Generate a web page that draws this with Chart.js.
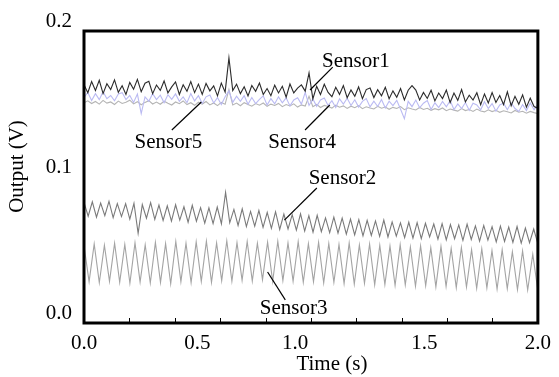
<!DOCTYPE html>
<html>
<head>
<meta charset="utf-8">
<title>Sensor output</title>
<script src="https://cdn.jsdelivr.net/npm/chart.js@4.4.1/dist/chart.umd.min.js"></script>
<style>
  body { margin: 0; background: #fff; }
  #wrap { width: 559px; height: 377px; }
</style>
</head>
<body>
<div id="wrap"><canvas id="sensorChart" width="559" height="377"></canvas></div>
<script>
// Werte (Output in V)
const seriesNames = ["Sensor1", "Sensor5", "Sensor4", "Sensor2", "Sensor3"];
const timeRange = [0, 2];
const xTickLabels = ["0.0", "0.5", "1.0", "1.5", "2.0"];
const yTickLabels = ["0.0", "0.1", "0.2"];
const xMinorTicks = [0.2, 0.4, 0.6, 0.8, 1.0, 1.2, 1.4, 1.6, 1.8];

const sensor1 = [
  0.1632, 0.1577, 0.1654, 0.1593, 0.1662, 0.1571, 0.1639, 0.1599, 0.1665, 0.1580,
  0.1625, 0.1565, 0.1648, 0.1601, 0.1669, 0.1584, 0.1642, 0.1656, 0.1570, 0.1630,
  0.1593, 0.1658, 0.1576, 0.1617, 0.1651, 0.1565, 0.1632, 0.1587, 0.1654, 0.1578,
  0.1636, 0.1566, 0.1641, 0.1590, 0.1624, 0.1556, 0.1643, 0.1581, 0.1816, 0.1592,
  0.1636, 0.1571, 0.1618, 0.1555, 0.1627, 0.1587, 0.1644, 0.1565, 0.1606, 0.1557,
  0.1629, 0.1576, 0.1621, 0.1547, 0.1637, 0.1576, 0.1609, 0.1631, 0.1588, 0.1713,
  0.1535, 0.1621, 0.1565, 0.1635, 0.1579, 0.1550, 0.1615, 0.1566, 0.1626, 0.1543,
  0.1596, 0.1553, 0.1617, 0.1537, 0.1599, 0.1610, 0.1544, 0.1598, 0.1556, 0.1615,
  0.1536, 0.1590, 0.1546, 0.1606, 0.1528, 0.1594, 0.1626, 0.1595, 0.1528, 0.1579,
  0.1538, 0.1594, 0.1521, 0.1575, 0.1537, 0.1595, 0.1510, 0.1575, 0.1525, 0.1599,
  0.1514, 0.1560, 0.1527, 0.1577, 0.1495, 0.1569, 0.1507, 0.1579, 0.1511, 0.1558,
  0.1496, 0.1584, 0.1488, 0.1553, 0.1498, 0.1563, 0.1478, 0.1540, 0.1483, 0.1470
];

const sensor5 = [
  0.1545, 0.1579, 0.1524, 0.1571, 0.1530, 0.1584, 0.1536, 0.1558, 0.1522, 0.1569,
  0.1578, 0.1530, 0.1559, 0.1511, 0.1568, 0.1434, 0.1549, 0.1519, 0.1571, 0.1530,
  0.1560, 0.1509, 0.1564, 0.1532, 0.1569, 0.1518, 0.1548, 0.1509, 0.1571, 0.1521,
  0.1557, 0.1504, 0.1549, 0.1561, 0.1507, 0.1544, 0.1496, 0.1550, 0.1590, 0.1511,
  0.1553, 0.1518, 0.1557, 0.1498, 0.1544, 0.1503, 0.1532, 0.1556, 0.1493, 0.1537,
  0.1502, 0.1549, 0.1508, 0.1542, 0.1487, 0.1528, 0.1543, 0.1499, 0.1580, 0.1490,
  0.1535, 0.1484, 0.1528, 0.1541, 0.1490, 0.1523, 0.1476, 0.1535, 0.1499, 0.1539,
  0.1490, 0.1529, 0.1479, 0.1518, 0.1537, 0.1480, 0.1519, 0.1483, 0.1531, 0.1472,
  0.1519, 0.1489, 0.1525, 0.1464, 0.1399, 0.1518, 0.1482, 0.1527, 0.1474, 0.1505,
  0.1523, 0.1462, 0.1508, 0.1475, 0.1517, 0.1481, 0.1523, 0.1462, 0.1501, 0.1469,
  0.1510, 0.1457, 0.1505, 0.1494, 0.1460, 0.1515, 0.1469, 0.1503, 0.1451, 0.1494,
  0.1506, 0.1461, 0.1508, 0.1469, 0.1449, 0.1496, 0.1455, 0.1507, 0.1461, 0.1497
];

const sensor4 = [
  0.1508, 0.1522, 0.1503, 0.1517, 0.1499, 0.1525, 0.1506, 0.1514, 0.1497, 0.1520,
  0.1504, 0.1512, 0.1526, 0.1501, 0.1516, 0.1495, 0.1511, 0.1523, 0.1500, 0.1513,
  0.1498, 0.1519, 0.1505, 0.1493, 0.1514, 0.1502, 0.1521, 0.1496, 0.1509, 0.1491,
  0.1512, 0.1500, 0.1517, 0.1494, 0.1507, 0.1489, 0.1511, 0.1498, 0.1600, 0.1493,
  0.1506, 0.1488, 0.1509, 0.1497, 0.1485, 0.1503, 0.1492, 0.1507, 0.1484, 0.1499,
  0.1490, 0.1504, 0.1482, 0.1496, 0.1487, 0.1501, 0.1479, 0.1494, 0.1486, 0.1552,
  0.1481, 0.1497, 0.1476, 0.1490, 0.1483, 0.1472, 0.1492, 0.1478, 0.1487, 0.1470,
  0.1485, 0.1475, 0.1489, 0.1468, 0.1481, 0.1473, 0.1466, 0.1484, 0.1471, 0.1479,
  0.1464, 0.1477, 0.1469, 0.1482, 0.1461, 0.1474, 0.1466, 0.1459, 0.1476, 0.1463,
  0.1471, 0.1457, 0.1468, 0.1460, 0.1473, 0.1454, 0.1466, 0.1458, 0.1451, 0.1469,
  0.1455, 0.1462, 0.1449, 0.1465, 0.1452, 0.1446, 0.1460, 0.1448, 0.1457, 0.1443,
  0.1454, 0.1447, 0.1439, 0.1456, 0.1444, 0.1450, 0.1437, 0.1449, 0.1441, 0.1434
];

const sensor2 = [
  0.0826, 0.0731, 0.0830, 0.0725, 0.0822, 0.0735, 0.0834, 0.0722, 0.0818, 0.0729,
  0.0817, 0.0712, 0.0820, 0.0614, 0.0811, 0.0718, 0.0824, 0.0709, 0.0808, 0.0703,
  0.0803, 0.0698, 0.0810, 0.0705, 0.0796, 0.0690, 0.0806, 0.0697, 0.0790, 0.0684,
  0.0788, 0.0681, 0.0794, 0.0679, 0.0894, 0.0686, 0.0778, 0.0668, 0.0782, 0.0660,
  0.0764, 0.0663, 0.0770, 0.0655, 0.0757, 0.0648, 0.0762, 0.0641, 0.0746, 0.0644,
  0.0742, 0.0636, 0.0748, 0.0630, 0.0735, 0.0622, 0.0738, 0.0626, 0.0720, 0.0618,
  0.0725, 0.0615, 0.0719, 0.0608, 0.0712, 0.0604, 0.0708, 0.0597, 0.0703, 0.0600,
  0.0699, 0.0593, 0.0705, 0.0589, 0.0692, 0.0595, 0.0686, 0.0584, 0.0690, 0.0581,
  0.0688, 0.0578, 0.0683, 0.0589, 0.0678, 0.0574, 0.0681, 0.0570, 0.0674, 0.0577,
  0.0672, 0.0566, 0.0677, 0.0572, 0.0665, 0.0561, 0.0668, 0.0568, 0.0660, 0.0556,
  0.0663, 0.0559, 0.0657, 0.0552, 0.0661, 0.0547, 0.0650, 0.0550, 0.0644, 0.0543
];

const sensor3 = [
  0.0528, 0.0283, 0.0541, 0.0276, 0.0533, 0.0285, 0.0546, 0.0279, 0.0538, 0.0272,
  0.0549, 0.0281, 0.0536, 0.0274, 0.0552, 0.0278, 0.0544, 0.0269, 0.0558, 0.0283,
  0.0547, 0.0276, 0.0555, 0.0285, 0.0561, 0.0279, 0.0549, 0.0290, 0.0563, 0.0286,
  0.0551, 0.0293, 0.0558, 0.0288, 0.0546, 0.0297, 0.0554, 0.0284, 0.0560, 0.0291,
  0.0548, 0.0286, 0.0557, 0.0279, 0.0543, 0.0283, 0.0552, 0.0274, 0.0545, 0.0279,
  0.0538, 0.0270, 0.0549, 0.0266, 0.0535, 0.0272, 0.0541, 0.0261, 0.0533, 0.0264,
  0.0527, 0.0257, 0.0536, 0.0260, 0.0521, 0.0252, 0.0529, 0.0255, 0.0516, 0.0247,
  0.0524, 0.0250, 0.0510, 0.0242, 0.0517, 0.0246, 0.0503, 0.0238, 0.0509, 0.0241,
  0.0496, 0.0233, 0.0502, 0.0236, 0.0488, 0.0229, 0.0493, 0.0226, 0.0472, 0.0221
];

const seriesColors = ["#2b2b2b", "#babaf2", "#b4b4b4", "#7a7a7a", "#a4a4a4"];

// Beschriftungen mit Hinweislinien (in Datenkoordinaten: Zeit, Spannung)
const sensorNotes = [
  { name: "Sensor1", at: [1.198, 0.1755], from: [1.096, 0.1753], to: [0.996, 0.1596] },
  { name: "Sensor5", at: [0.372, 0.1197], from: [0.387, 0.1322], to: [0.517, 0.1514] },
  { name: "Sensor4", at: [0.961, 0.1197], from: [0.974, 0.1322], to: [1.083, 0.1493] },
  { name: "Sensor2", at: [1.139, 0.0952], from: [1.026, 0.0925], to: [0.883, 0.0705] },
  { name: "Sensor3", at: [0.924, 0.0062], from: [0.887, 0.0158], to: [0.809, 0.0349] }
];

const FONT = "Liberation Serif";

/* --------- HILFSFUNKTION: ZEITACHSE --------- */
function toPoints(values) {
  const dt = (timeRange[1] - timeRange[0]) / (values.length - 1);
  return values.map((v, i) => ({ x: timeRange[0] + i * dt, y: v }));
}

const allSeries = [sensor1, sensor5, sensor4, sensor2, sensor3];

/* --------- RAHMEN, TICKS, BESCHRIFTUNG --------- */
const framePlugin = {
  id: "frame",
  afterDraw(chart) {
    const { ctx, chartArea: a, scales: { x, y } } = chart;
    ctx.save();
    ctx.strokeStyle = "#000";
    ctx.lineWidth = 3;
    ctx.strokeRect(a.left, a.top, a.right - a.left, a.bottom - a.top);

    ctx.lineWidth = 1;
    xMinorTicks.forEach(v => {
      const px = Math.round(x.getPixelForValue(v)) + 0.5;
      ctx.beginPath();
      ctx.moveTo(px, a.bottom);
      ctx.lineTo(px, a.bottom - 5);
      ctx.stroke();
    });

    ctx.font = "21px '" + FONT + "'";
    ctx.fillStyle = "#000";
    ctx.textAlign = "center";
    ctx.textBaseline = "alphabetic";
    ctx.lineWidth = 1.2;
    sensorNotes.forEach(n => {
      ctx.beginPath();
      ctx.moveTo(x.getPixelForValue(n.from[0]), y.getPixelForValue(n.from[1]));
      ctx.lineTo(x.getPixelForValue(n.to[0]), y.getPixelForValue(n.to[1]));
      ctx.stroke();
      ctx.fillText(n.name, x.getPixelForValue(n.at[0]), y.getPixelForValue(n.at[1]));
    });
    ctx.restore();
  }
};

const ctx = document.getElementById("sensorChart");

new Chart(ctx, {
  type: "line",
  data: {
    datasets: allSeries.map((values, i) => ({
      label: seriesNames[i],
      data: toPoints(values),
      borderColor: seriesColors[i],
      borderWidth: 1.1,
      pointRadius: 0,
      tension: 0,
      fill: false
    }))
  },
  options: {
    responsive: false,
    animation: false,
    layout: { padding: { top: 31, right: 15, left: 0, bottom: 0 } },
    plugins: {
      legend: { display: false },
      tooltip: { enabled: false }
    },
    scales: {
      x: {
        type: "linear",
        min: timeRange[0],
        max: timeRange[1],
        grid: { display: false, drawTicks: false },
        border: { display: false },
        ticks: {
          stepSize: 0.5,
          autoSkip: false,
          maxRotation: 0,
          padding: 8,
          color: "#000",
          font: { family: FONT, size: 21 },
          // "1.0" sitzt im Original etwas links von seinem Tick
          callback: (v, i) => xTickLabels[i] === "1.0" ? "1.0      " : xTickLabels[i]
        },
        title: {
          display: true,
          text: "        Time (s)",
          color: "#000",
          font: { family: FONT, size: 21 },
          padding: { top: 0, bottom: 0 }
        },
        afterFit: scale => { scale.height = 54; }
      },
      y: {
        min: 0,
        max: 0.2,
        grid: { display: false, drawTicks: false },
        border: { display: false },
        ticks: {
          stepSize: 0.1,
          padding: 12,
          labelOffset: -10,
          color: "#000",
          font: { family: FONT, size: 21 },
          callback: (v, i) => yTickLabels[i]
        },
        title: {
          display: true,
          text: "    Output (V)",
          color: "#000",
          font: { family: FONT, size: 21 },
          padding: { top: 5, bottom: 0 }
        },
        afterFit: scale => { scale.width = 84; }
      }
    }
  },
  plugins: [framePlugin]
});
</script>
</body>
</html>
